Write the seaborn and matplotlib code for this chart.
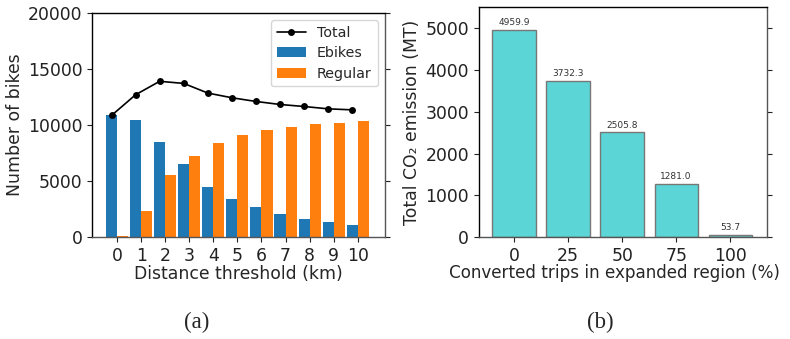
import matplotlib
matplotlib.use("Agg")
import matplotlib.pyplot as plt
import seaborn as sns
import pandas as pd
import numpy as np

# ---- data ----
distance_km = [0, 1, 2, 3, 4, 5, 6, 7, 8, 9, 10]
ebikes = [10900, 10450, 8490, 6510, 4450, 3380, 2660, 2030, 1580, 1310, 1045]
regular = [60, 2300, 5520, 7220, 8380, 9100, 9550, 9820, 10090, 10180, 10360]
total = [10850, 12700, 13900, 13710, 12850, 12430, 12100, 11830, 11650, 11440, 11350]

converted_pct = [0, 25, 50, 75, 100]
co2_emission = [4959.9, 3732.3, 2505.8, 1281.0, 53.7]

sns.set_style("ticks")
plt.rcParams['font.family'] = ['DejaVu Sans']
FS = 12.4

fig = plt.figure(figsize=(7.9, 3.39), dpi=100)
ax1 = fig.add_axes([0.1165, 0.301, 0.487 - 0.1165, 0.9617 - 0.301])
ax2 = fig.add_axes([0.606, 0.301, 0.971 - 0.606, 0.979 - 0.301])

# ---- panel (a) ----
df_a = pd.DataFrame({
    "dist": distance_km * 2,
    "count": ebikes + regular,
    "kind": ["Ebikes"] * len(ebikes) + ["Regular"] * len(regular),
})
sns.barplot(data=df_a, x="dist", y="count", hue="kind",
            palette={"Ebikes": "#1f77b4", "Regular": "#ff7f0e"},
            width=0.92, gap=0, saturation=1, errorbar=None, ax=ax1,
            linewidth=0)
df_t = pd.DataFrame({"x": np.array(distance_km) - 0.23, "total": total})
sns.lineplot(data=df_t, x="x", y="total", color="black", marker="o",
             markersize=5, markeredgewidth=0, linewidth=1.2, ax=ax1,
             label="Total")
ax1.set_xlim(-1.04, 11.12)
ax1.set_ylim(0, 20000)
ax1.set_yticks([0, 5000, 10000, 15000, 20000])
ax1.set_xticks(range(len(distance_km)))
ax1.set_xticklabels([str(d) for d in distance_km])
ax1.set_xlabel("Distance threshold (km)", fontsize=FS, labelpad=0)
ax1.set_ylabel("Number of bikes", fontsize=FS, labelpad=3)
handles, labels = ax1.get_legend_handles_labels()
order = [labels.index(l) for l in ["Total", "Ebikes", "Regular"]]
ax1.legend([handles[i] for i in order], [labels[i] for i in order],
           loc="upper right", fontsize=10.3, frameon=True,
           handlelength=2.0, borderaxespad=0.5, labelspacing=0.45)

# ---- panel (b) ----
df_b = pd.DataFrame({"pct": converted_pct, "co2": co2_emission})
sns.barplot(data=df_b, x="pct", y="co2", color="#5BD5D5", saturation=1,
            width=0.8, edgecolor="#777777", linewidth=1.0, errorbar=None,
            ax=ax2)
for i, v in enumerate(co2_emission):
    ax2.annotate(f"{v:.1f}", (i, v), xytext=(0, 2), textcoords="offset points",
                 ha="center", va="bottom", fontsize=6.5, color="#333333")
ax2.set_xlim(-0.65, 4.68)
ax2.set_ylim(0, 5510)
ax2.set_yticks([0, 1000, 2000, 3000, 4000, 5000])
ax2.set_xlabel("Converted trips in expanded region (%)", fontsize=12.1, labelpad=0)
ax2.xaxis.set_label_coords((615 - 479) / (767 - 479), -0.118)
ax2.xaxis.label.set_va("top")
ax2.set_ylabel("Total CO\u2082 emission (MT)", fontsize=FS, labelpad=3)

for ax in (ax1, ax2):
    ax.tick_params(axis="both", labelsize=FS, length=3.5, width=0.8,
                   colors="#222222")
    ax.tick_params(axis="y", right=True, which="both")
    for s in ("left", "top"):
        ax.spines[s].set_color("black")
    for s in ("right", "bottom"):
        ax.spines[s].set_color("#555555")
    for s in ax.spines.values():
        s.set_linewidth(1.0)
        s.set_visible(True)

fig.text(197 / 790, 1 - 322 / 339, "(a)", ha="center", va="center",
         fontsize=16.5, family="Liberation Serif")
fig.text(600 / 790, 1 - 322 / 339, "(b)", ha="center", va="center",
         fontsize=16.5, family="Liberation Serif")

fig.savefig("out.png", dpi=100)
